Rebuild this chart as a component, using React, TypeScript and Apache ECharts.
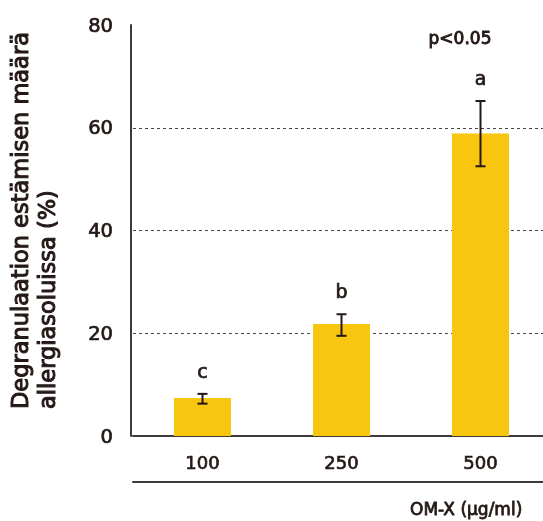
import React, { useEffect, useRef } from "react";
import * as echarts from "echarts";

const categories = ["100", "250", "500"];
const values = [7.4, 21.8, 58.9];
const errLow = [6.3, 19.5, 52.5];
const errHigh = [8.2, 23.7, 65.2];
const letters = ["c", "b", "a"];
const yMin = 0;
const yMax = 80;
const yInterval = 20;
const yTitle = "Degranulaation estämisen määrä\nallergiasoluissa (%)";
const xTitle = "OM-X (μg/ml)";
const pText = "p<0.05";

const FONT = "'DejaVu Sans', sans-serif";
const TXT = "#231815";
const BAR = "#F8C50F";
const SW = 0.7;

export default function App() {
  const ref = useRef<HTMLDivElement>(null);
  useEffect(() => {
    if (!ref.current) return;
    const chart = echarts.init(ref.current, undefined, { renderer: "svg" });
    const errData = categories.map((_, i) => [i, errLow[i], errHigh[i]]);
    const txt = (size: number, sw: number) => ({
      fill: TXT,
      fontSize: size,
      fontFamily: FONT,
      stroke: TXT,
      lineWidth: sw,
    });
    chart.setOption({
      animation: false,
      grid: { left: 133, top: 25, width: 417, height: 411, containLabel: false },
      xAxis: [
        {
          type: "category",
          data: categories,
          position: "bottom",
          axisLine: { show: true, lineStyle: { color: "#3e3a39", width: 2 } },
          axisTick: { show: false },
          axisLabel: {
            color: TXT,
            fontSize: 18,
            fontFamily: FONT,
            margin: 17,
            textBorderColor: TXT,
            textBorderWidth: SW,
          },
        },
        {
          type: "category",
          data: categories,
          position: "bottom",
          offset: 46,
          axisLine: { show: true, lineStyle: { color: "#3e3a39", width: 2 } },
          axisTick: { show: false },
          axisLabel: { show: false },
        },
      ],
      yAxis: {
        type: "value",
        min: yMin,
        max: yMax,
        interval: yInterval,
        offset: 2,
        axisLine: { show: true, lineStyle: { color: "#3e3a39", width: 2 } },
        axisTick: { show: false },
        axisLabel: {
          color: TXT,
          fontSize: 19.5,
          fontFamily: FONT,
          margin: 18,
          textBorderColor: TXT,
          textBorderWidth: SW,
        },
        splitLine: {
          show: true,
          lineStyle: {
            color: ["rgba(0,0,0,0)", "#444", "#444", "#444", "rgba(0,0,0,0)"],
            type: [3, 3],
            width: 1,
          },
        },
      },
      series: [
        {
          type: "bar",
          data: values,
          barWidth: 57,
          itemStyle: { color: BAR },
        },
        {
          type: "custom",
          data: errData,
          encode: { x: 0, y: [1, 2] },
          z: 10,
          renderItem: (params: any, api: any) => {
            const x = api.value(0);
            const lo = api.coord([x, api.value(1)]);
            const hi = api.coord([x, api.value(2)]);
            const half = 5;
            const stroke = { stroke: TXT, lineWidth: 2 };
            return {
              type: "group",
              children: [
                { type: "line", shape: { x1: lo[0], y1: lo[1], x2: hi[0], y2: hi[1] }, style: stroke },
                { type: "line", shape: { x1: lo[0] - half, y1: lo[1], x2: lo[0] + half, y2: lo[1] }, style: stroke },
                { type: "line", shape: { x1: hi[0] - half, y1: hi[1], x2: hi[0] + half, y2: hi[1] }, style: stroke },
                {
                  type: "text",
                  style: {
                    text: letters[params.dataIndex],
                    x: hi[0],
                    y: hi[1] - 23,
                    align: "center",
                    verticalAlign: "middle",
                    ...txt(19, SW),
                  },
                },
              ],
            };
          },
        },
      ],
      graphic: [
        {
          type: "text",
          x: 33.5,
          y: 409,
          rotation: Math.PI / 2,
          style: {
            text: yTitle,
            align: "left",
            verticalAlign: "middle",
            lineHeight: 27,
            ...txt(22.5, 1),
          },
        },
        {
          type: "text",
          x: 460,
          y: 38,
          style: {
            text: pText,
            align: "center",
            verticalAlign: "middle",
            ...txt(17, 0.9),
          },
        },
        {
          type: "text",
          x: 410,
          y: 509,
          style: {
            text: xTitle,
            align: "left",
            verticalAlign: "middle",
            ...txt(17, 0.8),
          },
        },
      ],
    });
    return () => chart.dispose();
  }, []);
  return (
    <div
      ref={ref}
      style={{ position: "fixed", left: 0, top: 0, width: 560, height: 521 }}
    />
  );
}
